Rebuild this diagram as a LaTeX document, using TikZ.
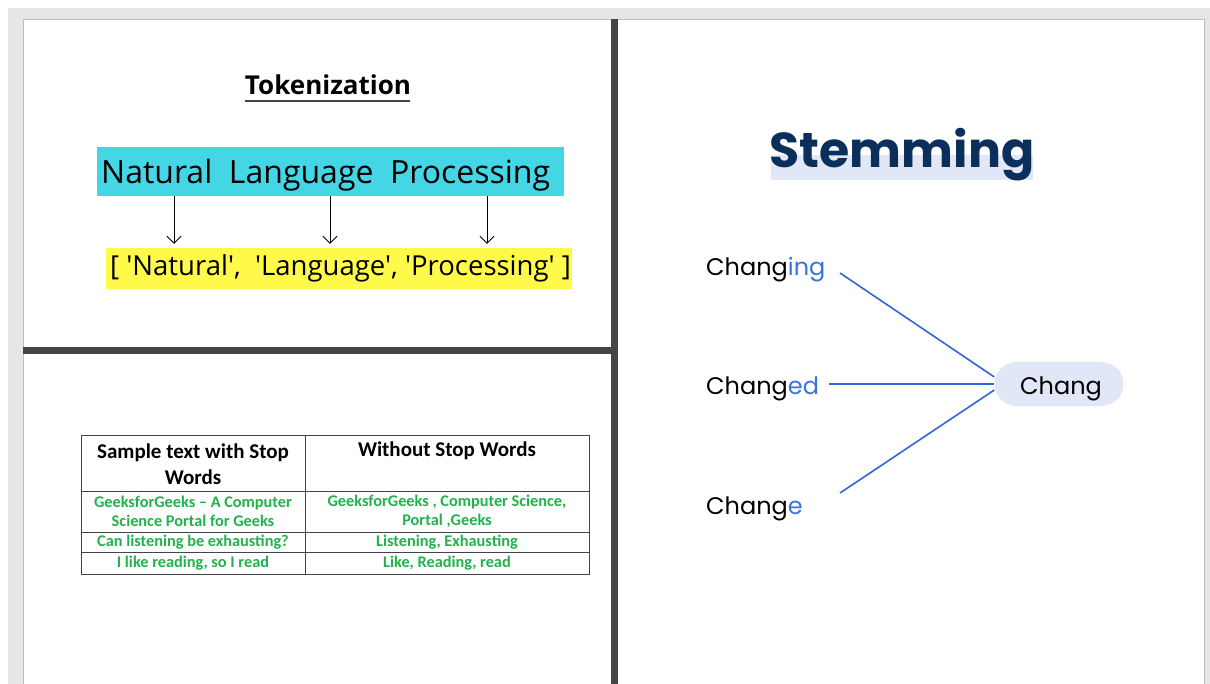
\documentclass[tikz,border=0pt]{standalone}
\usepackage{fontspec}
\usetikzlibrary{arrows.meta}
\setmainfont{Open Sans}
\newfontfamily\osans{Open Sans}
\newfontfamily\calib{Carlito}
\newfontfamily\pop{Poppins}
\definecolor{pagegray}{HTML}{E6E6E6}
\definecolor{bardark}{HTML}{444444}
\definecolor{cyanbox}{HTML}{45D6E6}
\definecolor{yellowbox}{HTML}{FFF94A}
\definecolor{ggreen}{HTML}{22B24C}
\definecolor{navy}{HTML}{0B2F5B}
\definecolor{lav}{HTML}{E2E7F8}
\definecolor{sblue}{HTML}{3A72E0}
\definecolor{lblue}{HTML}{2F66D8}
\tikzset{
  arr/.style={-{Straight Barb[length=7pt,width=14pt]}, line width=0.8pt, black},
  stemline/.style={lblue, line width=1.6pt},
  tline/.style={draw=bardark, line width=0.9pt},
  hdr/.style={font=\calib\bfseries\fontsize{21}{26}\selectfont, align=center, text=black, inner sep=0pt},
  cell/.style={font=\calib\bfseries\fontsize{16.3}{19}\selectfont, align=center, text=ggreen, inner sep=0pt},
  word/.style={font=\pop\fontsize{24}{30}\selectfont, anchor=base west, inner sep=0pt},
}
\begin{document}
\begin{tikzpicture}[x=1pt, y=-1pt]
\useasboundingbox (0,0) rectangle (1210,684);
\fill[white] (0,0) rectangle (1210,684);
\fill[pagegray] (8,8) rectangle (1210,684);
\fill[white] (23,19) rectangle (1204,684);
\draw[gray!50, line width=0.5pt] (23,684) -- (23,19) -- (1204,19) -- (1204,684);
% dividers
\fill[bardark] (611,19) rectangle (618,684);
\fill[bardark] (23,347) rectangle (611,354);

% ---------- Tokenization ----------
\node[font=\bfseries\fontsize{26}{30}\selectfont, inner sep=0pt, anchor=base] (tokt) at (328,95) {Tokenization};
\draw[bardark, line width=1.8pt] (245,101) -- (410,101);
\node[fill=cyanbox, minimum width=467pt, minimum height=49pt, inner sep=0pt] (nlp) at (330.5,171.5) {};
\node[font=\osans\fontsize{32}{36}\selectfont, anchor=base west, inner sep=0pt] (nlpt) at (101,184) {Natural\ \ Language\ \ Processing};
\node[fill=yellowbox, minimum width=466pt, minimum height=41pt, inner sep=0pt] (toks) at (339,268.5) {};
\node[font=\osans\fontsize{27.5}{30}\selectfont, anchor=base west, inner sep=0pt] (tokst) at (110,276) {[ 'Natural',\ \ 'Language', 'Processing' ]};
\coordinate (xa) at (174,0);
\coordinate (xb) at (330,0);
\coordinate (xc) at (487,0);
\draw[arr] (nlp.south -| xa) -- ([yshift=4pt]toks.north -| xa);
\draw[arr] (nlp.south -| xb) -- ([yshift=4pt]toks.north -| xb);
\draw[arr] (nlp.south -| xc) -- ([yshift=4pt]toks.north -| xc);

% ---------- Stop words table ----------
\draw[tline] (81,435) rectangle (589,574);
\draw[tline] (305,435) -- (305,574);
\draw[tline] (81,491) -- (589,491);
\draw[tline] (81,532) -- (589,532);
\draw[tline] (81,552) -- (589,552);
\node[hdr] (h1) at (193,464) {Sample text with Stop\\Words};
\node[hdr] (h2) at (447,451) {Without Stop Words};
\node[cell] (r1a) at (193,511) {GeeksforGeeks – A Computer\\Science Portal for Geeks};
\node[cell] (r1b) at (447,511) {GeeksforGeeks , Computer Science,\\Portal ,Geeks};
\node[cell] (r2a) at (193,542) {Can listening be exhausting?};
\node[cell] (r2b) at (447,542) {Listening, Exhausting};
\node[cell] (r3a) at (193,563) {I like reading, so I read};
\node[cell] (r3b) at (447,563) {Like, Reading, read};

% ---------- Stemming ----------
\fill[lav] (771,155) rectangle (1033,180);
\node[font=\pop\bfseries\fontsize{49}{56}\selectfont, text=navy, anchor=base, inner sep=0pt] (stem) at (902,168) {Stemming};
\node[word] (w1) at (706,276) {Chang\textcolor{sblue}{ing}};
\node[word] (w2) at (706,395) {Chang\textcolor{sblue}{ed}};
\node[word] (w3) at (706,514) {Chang\textcolor{sblue}{e}};
\node[fill=lav, rounded corners=22pt, minimum width=129pt, minimum height=44pt, inner sep=0pt] (pill) at (1059,384) {};
\node[word, anchor=base] (pt) at (1061,395) {Chang};
\coordinate (s1) at (840,273);
\coordinate (s2) at (829,384);
\coordinate (s3) at (840,493);
\draw[stemline] (s1) -- ([yshift=7pt]pill.west);
\draw[stemline] (s2) -- (pill.west);
\draw[stemline] (s3) -- ([yshift=-6pt]pill.west);
\end{tikzpicture}
\end{document}
